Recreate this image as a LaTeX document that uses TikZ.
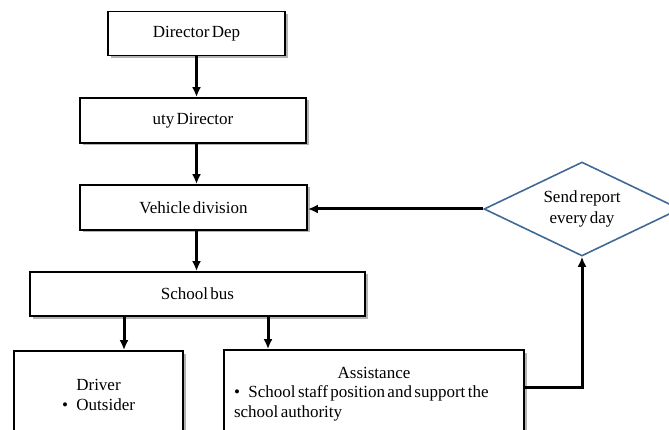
\documentclass[tikz,border=0pt]{standalone}
\usepackage{fontspec}
\setmainfont{Liberation Serif}
\usetikzlibrary{positioning,arrows.meta,shapes.geometric,shadows}
\definecolor{reportblue}{RGB}{65,105,150}
\newcommand{\tightwords}{\spaceskip=0.14em\relax}
\tikzset{
    block/.style = {
        draw,
        shape=rectangle,
        fill=white,
        minimum height=44pt,
        line width=1.8pt,
        drop shadow={shadow xshift=2.5pt, shadow yshift=-2.5pt, opacity=0.6},
        font=\fontsize{17}{19.5}\selectfont\tightwords
    },
    decision/.style = {
        draw=reportblue,
        shape=diamond,
        aspect=2.08,
        minimum width=196pt,
        minimum height=94pt,
        inner sep=0pt,
        line width=1.6pt,
        align=center,
        font=\fontsize{17}{21}\selectfont\tightwords
    },
    link/.style = {
        draw,
        line width=3pt,
        ->
    },
    >={Latex[length=10pt,width=9pt]},
}
\begin{document}
\begin{tikzpicture}[x=1pt,y=-1pt]
    \useasboundingbox (0,0) rectangle (669,430);
    \clip (0,0) rectangle (669,430);

    \node[block, minimum width=177pt] (director) at (196.5,33.5) {Director Dep};
    \node[block, minimum width=226pt, minimum height=45pt] (deputy) at (193,120.5) {uty Director};
    \node[block, minimum width=227pt, minimum height=45pt] (vehicle) at (193.5,207.5) {Vehicle division};
    \node[block, minimum width=335pt] (bus) at (197.5,294) {School bus};
    \node[block, minimum width=169pt, minimum height=88pt, align=center] (driver) at (98.5,395)
        {Driver\\\textbullet\hspace{0.5em}Outsider};
    \node[block, minimum width=300pt, minimum height=88pt, text width=280pt] (assist) at (374,394)
        {{\centering Assistance\par}\raggedright\tightwords\noindent\textbullet\hspace{0.5em}School staff position and support the\par
         \noindent school authority};
    \node[decision] (report) at (582,209) {Send report\\every day};

    \path[link] (director.south) -- (director.south |- deputy.north);
    \path[link] (deputy.south -| director) -- (director |- vehicle.north);
    \path[link] (vehicle.south -| director) -- (director |- bus.north);
    \path[link] ([xshift=25.5pt]driver.north |- bus.south) -- ([xshift=25.5pt]driver.north);
    \path[link] ([xshift=-106pt]assist.north |- bus.south) -- ([xshift=-106pt]assist.north);
    \path[link] ([yshift=7pt]assist.east) -| (report.south);
    \path[link] (report.west) -- (vehicle.east |- report.west);
\end{tikzpicture}
\end{document}
